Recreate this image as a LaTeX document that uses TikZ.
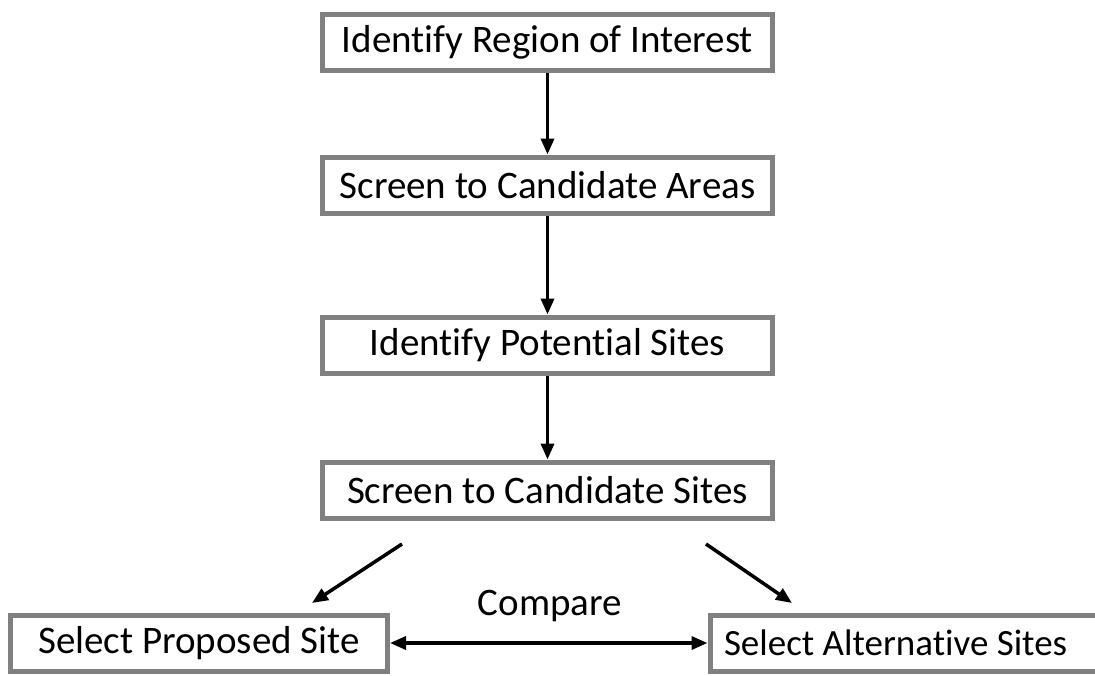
\documentclass[tikz,border=0pt]{standalone}
\usepackage{fontspec}
\setmainfont{Carlito}[Ligatures={NoCommon}]
\usetikzlibrary{arrows.meta}
\definecolor{boxgray}{HTML}{808080}
\tikzset{
  stepbox/.style={draw=boxgray, line width=5pt, fill=white, inner sep=0pt,
    minimum height=56pt, font=\fontsize{39}{44}\selectfont, text=black},
  flowarrow/.style={line width=3.5pt, -{Triangle[length=16pt,width=13pt]}},
  dblarrow/.style={line width=3.5pt, {Triangle[length=16pt,width=13pt]}-{Triangle[length=16pt,width=13pt]}}
}
\begin{document}
\begin{tikzpicture}[x=1pt,y=-1pt]
\useasboundingbox (0,0) rectangle (1095,675);
\clip (0,0) rectangle (1095,675);
\node[stepbox, minimum width=450pt] (b1) at (547.5,42.5) {Identify Region of Interest};
\node[stepbox, minimum width=450pt] (b2) at (547.5,185) {Screen to Candidate Areas};
\node[stepbox, minimum width=450pt] (b3) at (547.5,345) {Identify Potential Sites};
\node[stepbox, minimum width=450pt] (b4) at (547.5,490) {Screen to Candidate Sites};
\node[stepbox, minimum width=377pt] (p) at (199,643) {Select Proposed Site};
\node[stepbox, anchor=west, inner xsep=14pt, font=\fontsize{37}{42}\selectfont] (a) at (707.5,643) {Select Alternative Sites\hspace*{40pt}};
\node[font=\fontsize{39}{44}\selectfont, anchor=base] (cmp) at (550,615) {Compare};
\draw[flowarrow] (b1.south) -- (b2.north);
\draw[flowarrow] (b2.south) -- (b3.north);
\draw[flowarrow] (b3.south) -- (b4.north);
\coordinate (l1) at (402,544);
\coordinate (l2) at (312,603);
\coordinate (r1) at (706,544);
\coordinate (r2) at (792,603);
\draw[flowarrow] (l1) -- (l2);
\draw[flowarrow] (r1) -- (r2);
\draw[dblarrow] (p.east) -- (a.west);
\end{tikzpicture}
\end{document}
